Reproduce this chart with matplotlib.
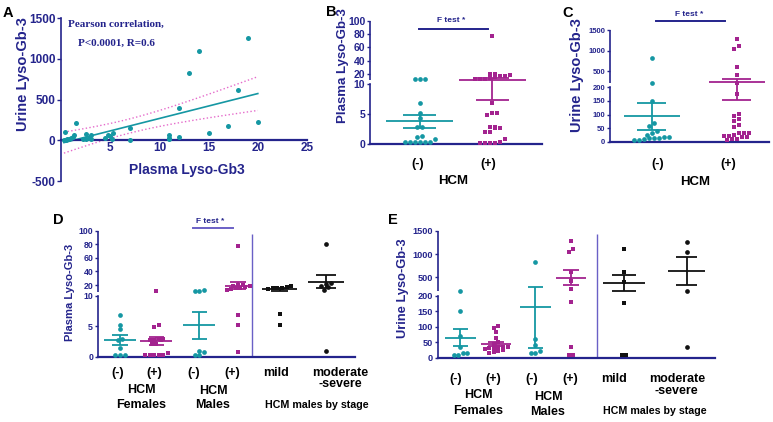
import numpy as np
import matplotlib.pyplot as plt
from matplotlib.lines import Line2D
from matplotlib.ticker import NullLocator

plt.rcParams['font.family'] = ['Liberation Sans', 'DejaVu Sans']
plt.rcParams['font.weight'] = 'bold'
plt.rcParams['axes.unicode_minus'] = False

NAVY = '#24248c'
TEAL = '#1597a3'
MAG = '#a3238f'
PINK = '#e56bcb'
DIV = '#6a60c6'
BLK = '#111111'

# ---- A: plasma vs urine ----
plasma_a = [19, 14, 13, 18, 12, 17, 20, 15, 11, 11, 11, 12, 7, 7, 5.3, 4.5, 5.0, 5.2, 1.5, 0.4,
            2.5, 2.8, 3.0, 2.2, 1.3, 1.0, 0.6, 0.8, 1.2, 2.5, 0.3, 0.5, 4.8, 3.0]
urine_a = [1250, 1100, 820, 615, 400, 170, 225, 85, 60, 25, 10, 35, 150, 0, 95, 30, 50, 10, 215, 100,
           80, 30, 65, 20, 60, 30, 10, 20, 40, 20, 5, 0, 60, 10]

# ---- B: plasma lyso-Gb3 by HCM ----
b_neg = [12, 12, 13, 6.9, 5.2, 4.4, 2.9, 2.9, 1.3, 1.1, 0.8, 0.3, 0.25, 0.3, 0.25, 0.3, 0.25]
b_pos = [78, 20, 20, 18.5, 17, 17, 15, 14.5, 12.4, 12.4, 12.4, 6.9, 5.2, 5.2, 4.8, 2.8, 2.8, 2.6,
         2.6, 2.05, 2.05, 0.8, 0.4, 0.2, 0.2, 0.2, 0.2]

# ---- C: urine lyso-Gb3 by HCM ----
c_neg = [810, 215, 150, 70, 58, 40, 31, 26, 18, 18, 15, 15, 13, 9, 8, 6]
c_pos = [1270, 1110, 1030, 605, 400, 215, 175, 101, 96, 83, 76, 61, 53, 33, 31, 31, 24, 22, 22,
         18, 17, 11, 11, 6]

# ---- D: plasma by sex / stage ----
d_fem_neg = [6.85, 5.2, 4.5, 3.0, 2.8, 1.4, 0.35, 0.35, 0.35]
d_fem_pos = [11, 5.3, 4.95, 2.9, 2.8, 2.8, 2.9, 2.7, 2.1, 2.1, 0.6, 0.35, 0.35, 0.35, 0.35, 0.35]
d_male_neg = [10.5, 10.5, 12.5, 1.05, 0.8, 0.35, 0.35]
d_male_pos = [77, 20, 19, 18, 20, 16, 15, 14, 13, 17, 6.9, 5.2, 0.8]
d_mild = [18, 16, 15, 14, 15, 17, 7.0, 5.3]
d_mod = [80, 22.5, 21.5, 18.5, 17, 12.6, 0.9]

# ---- E: urine by sex / stage ----
e_fem_neg = [215, 150, 71, 33, 16, 16, 8, 8]
e_fem_pos = [102, 97, 84, 62, 52, 44, 36, 35, 35, 32, 30, 28, 25, 20, 18, 14]
e_male_neg = [835, 59, 41, 23, 14, 14]
e_male_pos = [1270, 1110, 1035, 620, 420, 245, 180, 35, 8, 8]
e_mild = [1100, 620, 410, 175, 8, 8]
e_mod = [1260, 1035, 215, 35]

pm_labels = ['(-)', '(+)']
group_labels = ['(-)', '(+)', '(-)', '(+)', 'mild', 'moderate\n-severe']

W, H = 773, 422
fig = plt.figure(figsize=(W / 100, H / 100), dpi=100)


def add_ax(x0, y0, x1, y1):
    ax = fig.add_axes([x0 / W, 1 - y1 / H, (x1 - x0) / W, (y1 - y0) / H])
    ax.patch.set_alpha(0)
    for s in ['top', 'right']:
        ax.spines[s].set_visible(False)
    ax.spines['left'].set_color(NAVY)
    ax.spines['left'].set_linewidth(1.2)
    ax.spines['bottom'].set_color(NAVY)
    ax.spines['bottom'].set_linewidth(1.6)
    return ax


def ftext(x, y, s, **kw):
    kw.setdefault('ha', 'center')
    kw.setdefault('va', 'center')
    fig.text(x / W, 1 - y / H, s, **kw)


def fline(x0, x1, y, color=NAVY, lw=1.4):
    fig.add_artist(Line2D([x0 / W, x1 / W], [1 - y / H, 1 - y / H], color=color, lw=lw,
                          transform=fig.transFigure))


def broken(ax, brk, s_lo, s_hi, gap, top, lo_ticks, hi_ticks, fs):
    # piecewise linear y scale (in pixels) with a small gap at the break
    def fwd(v):
        v = np.asarray(v, float)
        return np.where(v <= brk, v * s_lo, brk * s_lo + gap + (v - brk) * s_hi)

    def inv(u):
        u = np.asarray(u, float)
        return np.where(u <= brk * s_lo + gap / 2, u / s_lo, brk + (u - brk * s_lo - gap) / s_hi)

    ax.set_yscale('function', functions=(fwd, inv))
    ax.set_ylim(0, top)
    ticks = lo_ticks + hi_ticks
    ax.set_yticks(ticks, [str(t) for t in ticks])
    ax.yaxis.set_minor_locator(NullLocator())
    ax.tick_params(axis='y', colors=NAVY, labelsize=fs, length=2.5, width=1, pad=1)
    ax.spines['left'].set_bounds(0, brk)
    ax.plot([0, 0], [brk * 1.0001, top], transform=ax.get_yaxis_transform(), color=NAVY,
            lw=1.2, clip_on=False, solid_capstyle='butt')
    return fwd


def swarm(ypx, d):
    # rows of points closer than d vertically, spread side by side
    offs = np.zeros(len(ypx))
    rows = []
    for i in np.argsort(ypx):
        if rows and ypx[i] - ypx[rows[-1][0]] < d * 0.85:
            rows[-1].append(i)
        else:
            rows.append([i])
    for r in rows:
        m = len(r)
        for k, i in enumerate(r):
            offs[i] = (k - (m - 1) / 2) * d
    return offs


def column(ax, fwd, x, vals, color, marker, xunit, hw_mean, hw_cap, line_color=None, d=5.0):
    vals = np.asarray(vals, float)
    off = swarm(fwd(vals), d) / xunit
    ms = 3.1 if marker == 's' else 3.4
    ax.plot(x + off, vals, ls='none', marker=marker, ms=ms, color=color, mec=color, mew=0,
            clip_on=False, zorder=3)
    lc = line_color or color
    m = vals.mean()
    se = vals.std(ddof=1) / np.sqrt(len(vals))
    ax.hlines(m, x - hw_mean, x + hw_mean, color=lc, lw=1.3, zorder=4)
    ax.hlines([m - se, m + se], x - hw_cap, x + hw_cap, color=lc, lw=1.3, zorder=4)
    ax.vlines(x, m - se, m + se, color=lc, lw=1.3, zorder=4)


def xlabels(ax, pos, labels, fs, pad):
    ax.set_xticks(pos, labels, fontsize=fs, color='black', linespacing=0.95)
    ax.tick_params(axis='x', length=0, pad=pad)


# ================= A =================
axA = add_ax(61, 18, 307, 181)
xa = np.array(plasma_a, float)
ya = np.array(urine_a, float)
axA.plot(xa, ya, ls='none', marker='o', ms=3.6, color=TEAL, mew=0, clip_on=False, zorder=3)
slope, icpt = np.polyfit(xa, ya, 1)
xs = np.linspace(xa.min(), xa.max(), 100)
fit = icpt + slope * xs
n = len(xa)
resid = ya - (icpt + slope * xa)
s_res = np.sqrt(np.sum(resid ** 2) / (n - 2))
sxx = np.sum((xa - xa.mean()) ** 2)
t95 = 2.04  # t critical, df ~ 32
band = t95 * s_res * np.sqrt(1 / n + (xs - xa.mean()) ** 2 / sxx)
axA.plot(xs, fit, color=TEAL, lw=1.2)
axA.plot(xs, fit + band, color=PINK, lw=1, ls=':')
axA.plot(xs, fit - band, color=PINK, lw=1, ls=':')
axA.set_xlim(0, 25)
axA.set_ylim(-500, 1500)
axA.spines['bottom'].set_position(('data', 0))
axA.set_xticks([5, 10, 15, 20, 25])
axA.set_yticks([-500, 0, 500, 1000, 1500])
axA.tick_params(axis='x', colors=NAVY, labelsize=8.5, length=0, pad=1.5)
axA.tick_params(axis='y', colors=NAVY, labelsize=8.5, length=3, width=1, pad=1)
ftext(23, 74.5, 'Urine Lyso-Gb-3', rotation=90, fontsize=10.5, color=NAVY)
ftext(187, 170, 'Plasma Lyso-Gb3', fontsize=10, color=NAVY)
ftext(68, 24, 'Pearson correlation,', ha='left', fontsize=8, color=NAVY,
      family=['Liberation Serif', 'DejaVu Serif'])
ftext(78, 43, 'P<0.0001, R=0.6', ha='left', fontsize=8, color=NAVY,
      family=['Liberation Serif', 'DejaVu Serif'])

# ================= B =================
axB = add_ax(370, 21, 542, 144)
fB = broken(axB, 10, 6.0, 0.66, 3.4, 100, [0, 5, 10], [20, 40, 60, 80, 100], 7.5)
axB.set_xlim(0.32, 2.68)
column(axB, fB, 1, b_neg, TEAL, 'o', 73, 0.46, 0.23)
column(axB, fB, 2, b_pos, MAG, 's', 73, 0.46, 0.23)
xlabels(axB, [0.97, 1.94], pm_labels, 9, 10)
ftext(343, 66, 'Plasma Lyso-Gb-3', rotation=90, fontsize=9.5, color=NAVY)
ftext(453, 181, 'HCM', fontsize=9.5)
fline(419, 488, 28.7)
ftext(451, 21, 'F test *', fontsize=6, color=NAVY)

# ================= C =================
axC = add_ax(610, 30, 769, 141.7)
fC = broken(axC, 200, 0.272, 0.041, 4.0, 1500, [0, 50, 100, 150, 200], [500, 1000, 1500], 5.5)
axC.set_xlim(0.51, 2.38)
column(axC, fC, 1, c_neg, TEAL, 'o', 85, 0.33, 0.17)
column(axC, fC, 2, c_pos, MAG, 's', 85, 0.33, 0.17)
xlabels(axC, [1.07, 1.9], pm_labels, 9, 11.5)
ftext(577, 75, 'Urine Lyso-Gb-3', rotation=90, fontsize=10.5, color=NAVY)
ftext(695, 182, 'HCM', fontsize=9.5)
fline(656, 725, 21.3)
ftext(689, 14, 'F test *', fontsize=6, color=NAVY)

# ================= D =================
axD = add_ax(98, 230.7, 355, 357)
fD = broken(axD, 10, 6.13, 0.679, 3.9, 100, [0, 5, 10], [20, 40, 60, 80, 100], 6.3)
axD.set_xlim(0.45, 6.875)
d_pos = [1, 1.91, 2.98, 3.95, 4.99, 6.15]
d_groups = [d_fem_neg, d_fem_pos, d_male_neg, d_male_pos, d_mild, d_mod]
d_cols = [TEAL, MAG, TEAL, MAG, BLK, BLK]
d_mk = ['o', 's', 'o', 's', 's', 'o']
d_hw = [0.4, 0.4, 0.4, 0.32, 0.44, 0.46]
d_cap = [0.19, 0.19, 0.19, 0.19, 0.22, 0.26]
for x, g, c, mk, hw, cp in zip(d_pos, d_groups, d_cols, d_mk, d_hw, d_cap):
    column(axD, fD, x, g, c, mk, 40, hw, cp, d=4.6)
axD.vlines(4.3, 0, 95, color=DIV, lw=1)
xlabels(axD, [0.93, 1.85, 2.83, 3.8, 4.9, 6.5], group_labels, 9, 7)
ftext(70, 292, 'Plasma Lyso-Gb-3', rotation=90, fontsize=8, color=NAVY)
ftext(141, 390, 'HCM', fontsize=9)
ftext(141, 405, 'Females', fontsize=9)
ftext(213, 391.5, 'HCM', fontsize=9)
ftext(213, 405.5, 'Males', fontsize=9)
ftext(317, 405, 'HCM males by stage', fontsize=7.7)
fline(193, 233, 228.3, color=DIV)
ftext(210, 221.7, 'F test *', fontsize=6, color=NAVY)

# ================= E =================
axE = add_ax(438, 230.7, 715, 357.7)
fE = broken(axE, 200, 0.31, 0.0466, 4.4, 1500, [0, 50, 100, 150, 200], [500, 1000, 1500], 6.6)
axE.set_xlim(0.4, 7.79)
e_pos = [1, 1.95, 3.0, 3.95, 5.36, 7.03]
e_groups = [e_fem_neg, e_fem_pos, e_male_neg, e_male_pos, e_mild, e_mod]
e_hw = [0.41, 0.41, 0.41, 0.41, 0.56, 0.49]
e_cap = [0.21, 0.21, 0.21, 0.21, 0.31, 0.29]
for x, g, c, mk, hw, cp in zip(e_pos, e_groups, d_cols, d_mk, e_hw, e_cap):
    column(axE, fE, x, g, c, mk, 37.5, hw, cp, d=4.6)
axE.vlines(4.64, 0, 1430, color=DIV, lw=1)
xlabels(axE, [0.88, 1.87, 2.91, 3.92, 5.09, 6.77], group_labels, 9, 11)
ftext(403, 288, 'Urine Lyso-Gb-3', rotation=90, fontsize=9.3, color=NAVY)
ftext(478, 395, 'HCM', fontsize=9)
ftext(478, 411, 'Females', fontsize=9)
ftext(548, 397, 'HCM', fontsize=9)
ftext(548, 412, 'Males', fontsize=9)
ftext(655, 411, 'HCM males by stage', fontsize=7.7)

# panel letters
for lab, (x, y) in zip('ABCDE', [(8, 13), (331, 12.5), (568, 13), (58, 220), (393, 220)]):
    ftext(x, y, lab, fontsize=10.5, color='black')

fig.savefig('out.png', dpi=100)
